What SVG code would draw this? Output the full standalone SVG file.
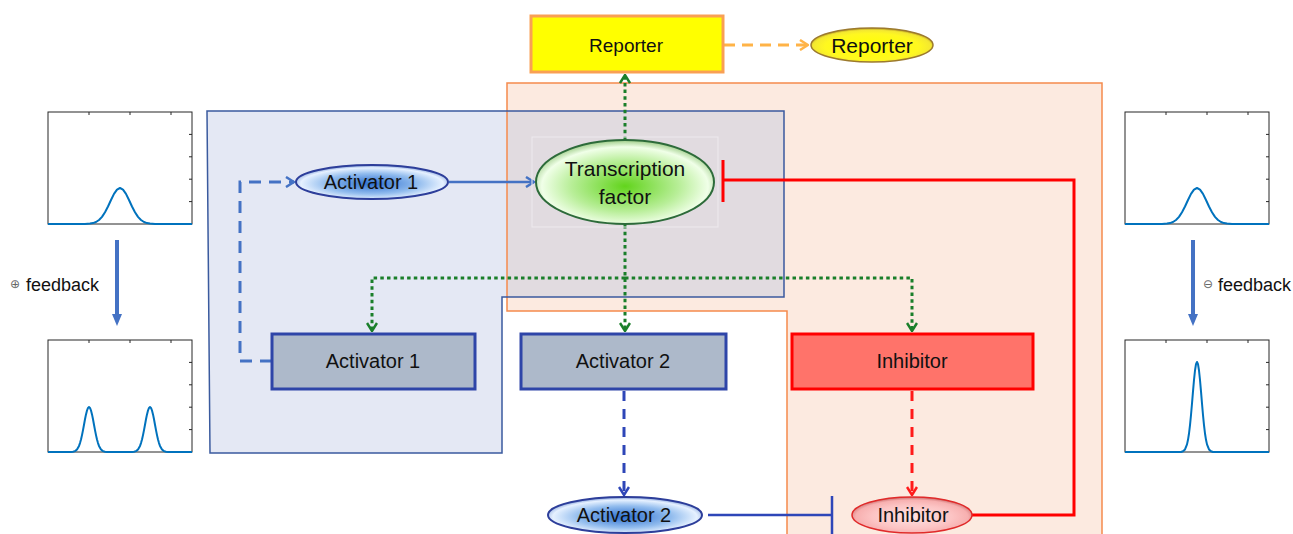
<svg xmlns="http://www.w3.org/2000/svg" xmlns:xlink="http://www.w3.org/1999/xlink" width="1293" height="534" viewBox="0 0 1293 534">
  <style>
    text { font-family: "Liberation Sans", Arial, sans-serif; fill: #111; text-anchor: middle; dominant-baseline: central; }
    .lbl { font-size: 20px; }
    .fb { font-size: 18px; text-anchor: start; }
    .sym { font-family: "DejaVu Sans", sans-serif; font-size: 12px; fill: #666; text-anchor: start; }
    .frame { fill: #fff; stroke: #262626; stroke-width: 1; }
    .tick { stroke: #262626; stroke-width: 1; }
    .curve { fill: none; stroke: #0072BD; stroke-width: 2; stroke-linejoin: round; }
    .box { stroke-width: 3; }
    .act-box { fill: #ADB9CA; stroke: #2E45A8; }
    .inh-box { fill: #FF736A; stroke: #FF0000; }
    .green { fill: none; stroke: #1A7F2A; stroke-width: 3; stroke-dasharray: 3.5 3.2; }
    .feed { stroke: #4472C4; stroke-width: 4; }
  </style>
  <defs>
    <radialGradient id="gBlue" cx="0.5" cy="0.55" r="0.55">
      <stop offset="0" stop-color="#2C6FD0"/>
      <stop offset="0.55" stop-color="#93BDEE"/>
      <stop offset="0.85" stop-color="#E6F1FF"/>
      <stop offset="1" stop-color="#7C9BD8"/>
    </radialGradient>
    <radialGradient id="gGreen" cx="0.5" cy="0.55" r="0.55">
      <stop offset="0" stop-color="#62D41C"/>
      <stop offset="0.55" stop-color="#B8EE98"/>
      <stop offset="0.85" stop-color="#F0FFE8"/>
      <stop offset="1" stop-color="#9CCB86"/>
    </radialGradient>
    <radialGradient id="gPink" cx="0.5" cy="0.55" r="0.55">
      <stop offset="0" stop-color="#FFE2E2"/>
      <stop offset="0.6" stop-color="#FCC4C4"/>
      <stop offset="0.85" stop-color="#F7B0B0"/>
      <stop offset="1" stop-color="#C86A6A"/>
    </radialGradient>
    <radialGradient id="gYellow" cx="0.5" cy="0.55" r="0.55">
      <stop offset="0" stop-color="#FFFF00"/>
      <stop offset="0.7" stop-color="#FFF820"/>
      <stop offset="0.88" stop-color="#F4E830"/>
      <stop offset="1" stop-color="#B09020"/>
    </radialGradient>

    <!-- open chevron arrowheads, one per stroke colour -->
    <marker id="aGreen" viewBox="0 0 10 12" refX="9" refY="6" markerWidth="10" markerHeight="12" markerUnits="userSpaceOnUse" orient="auto">
      <path d="M1,1 L9,6 L1,11" fill="none" stroke="#1A7F2A" stroke-width="2.5"/>
    </marker>
    <marker id="aBlue" viewBox="0 0 10 12" refX="9" refY="6" markerWidth="10" markerHeight="12" markerUnits="userSpaceOnUse" orient="auto">
      <path d="M1,1 L9,6 L1,11" fill="none" stroke="#4472C4" stroke-width="2.5"/>
    </marker>
    <marker id="aNavy" viewBox="0 0 10 12" refX="9" refY="6" markerWidth="10" markerHeight="12" markerUnits="userSpaceOnUse" orient="auto">
      <path d="M1,1 L9,6 L1,11" fill="none" stroke="#2E46B8" stroke-width="2.5"/>
    </marker>
    <marker id="aRed" viewBox="0 0 10 12" refX="9" refY="6" markerWidth="10" markerHeight="12" markerUnits="userSpaceOnUse" orient="auto">
      <path d="M1,1 L9,6 L1,11" fill="none" stroke="#FF1A1A" stroke-width="2.5"/>
    </marker>
    <marker id="aOrange" viewBox="0 0 10 12" refX="9" refY="6" markerWidth="10" markerHeight="12" markerUnits="userSpaceOnUse" orient="auto">
      <path d="M1,1 L9,6 L1,11" fill="none" stroke="#FFB347" stroke-width="2.5"/>
    </marker>
    <marker id="aFeed" viewBox="0 0 12 10" refX="2" refY="5" markerWidth="12" markerHeight="10" markerUnits="userSpaceOnUse" orient="auto">
      <path d="M0,0 L12,5 L0,10 Z" fill="#4472C4"/>
    </marker>

    <!-- wide Gaussian profile across a 144px axis, peak 36 high, sigma 10, centred 72px in -->
    <path id="gaussWide" d="M0,0 H35 L37,-0.1 42,-0.4 45,-0.9 48,-2 51,-4 54,-7.1 57,-11.7 60,-17.5 63,-24 66,-30.1 69,-34.4 72,-36 75,-34.4 78,-30.1 81,-24 84,-17.5 87,-11.7 90,-7.1 93,-4 96,-2 99,-0.9 102,-0.4 107,-0.1 109,0 H144"/>

    <!-- plot axes box with inward ticks on top and right edges -->
    <g id="axes">
      <rect class="frame" x="0" y="0" width="144" height="112"/>
      <path class="tick" d="M41,0 v3 M82,0 v3 M123,0 v3 M144,22.4 h-3 M144,44.8 h-3 M144,67.2 h-3 M144,89.6 h-3"/>
    </g>

    <polygon id="orangeZone" points="507,83 1102,83 1102,540 787,540 787,311 507,311"/>
    <polygon id="blueZone" points="207,111 784,111 784,297 502,297 502,453 210,453"/>
  </defs>

  <!-- background compartments -->
  <g id="compartments">
    <use xlink:href="#orangeZone" fill="#FCEAE0"/>
    <use xlink:href="#blueZone" fill="#E4E8F4"/>
    <rect x="507" y="111" width="277" height="186" fill="#E1DBE0"/>
    <use xlink:href="#orangeZone" fill="none" stroke="#F58B4C" stroke-width="1.5"/>
    <use xlink:href="#blueZone" fill="none" stroke="#3A5A9E" stroke-width="1.5"/>
  </g>

  <!-- distribution plots -->
  <g id="plot-left-top">
    <use xlink:href="#axes" x="48" y="112"/>
    <use xlink:href="#gaussWide" class="curve" x="48" y="224"/>
  </g>
  <g id="plot-left-bottom">
    <use xlink:href="#axes" x="48" y="340"/>
    <path class="curve" d="M48,452 H71 L73,451.7 75,451.1 77,449.5 79,445.9 80,443.1 81,439.5 82,435.1 83,430.1 84,424.7 85,419.3 86,414.4 87,410.5 88,407.9 89,407 90,407.9 91,410.5 92,414.4 93,419.3 94,424.7 95,430.1 96,435.1 97,439.5 98,443.1 99,445.9 101,449.5 103,451.1 105,451.7 107,452 H132 L134,451.7 136,451.1 138,449.5 140,445.9 141,443.1 142,439.5 143,435.1 144,430.1 145,424.7 146,419.3 147,414.4 148,410.5 149,407.9 150,407 151,407.9 152,410.5 153,414.4 154,419.3 155,424.7 156,430.1 157,435.1 158,439.5 159,443.1 160,445.9 162,449.5 164,451.1 166,451.7 168,452 H192"/>
  </g>
  <g id="plot-right-top">
    <use xlink:href="#axes" x="1125" y="112"/>
    <use xlink:href="#gaussWide" class="curve" x="1125" y="224"/>
  </g>
  <g id="plot-right-bottom">
    <use xlink:href="#axes" x="1125" y="340"/>
    <path class="curve" d="M1125,452 H1181 L1183,451.3 1185,449.4 1187,444.4 1188,439.8 1189,433.5 1190,425.2 1191,415 1192,403.5 1193,391.4 1194,380 1195,370.5 1196,364.2 1197,362 1198,364.2 1199,370.5 1200,380 1201,391.4 1202,403.5 1203,415 1204,425.2 1205,433.5 1206,439.8 1207,444.4 1209,449.4 1211,451.3 1213,452 H1269"/>
  </g>

  <g id="feedback-pos">
    <line class="feed" x1="117" y1="240" x2="117" y2="316" marker-end="url(#aFeed)"/>
    <text class="sym" x="10" y="284">⊕</text>
    <text class="fb" x="26" y="285">feedback</text>
  </g>
  <g id="feedback-neg">
    <line class="feed" x1="1193" y1="240" x2="1193" y2="316" marker-end="url(#aFeed)"/>
    <text class="sym" x="1203" y="284">⊖</text>
    <text class="fb" x="1218" y="285">feedback</text>
  </g>

  <!-- connectors -->
  <g id="connectors">
    <line x1="724" y1="45" x2="808" y2="45" stroke="#FFB347" stroke-width="3" stroke-dasharray="11 7" marker-end="url(#aOrange)"/>
    <line class="green" x1="625" y1="140" x2="625" y2="75" marker-end="url(#aGreen)"/>
    <line class="green" x1="625" y1="225" x2="625" y2="331" marker-end="url(#aGreen)"/>
    <path class="green" d="M625,278 H372 V331" marker-end="url(#aGreen)"/>
    <path class="green" d="M625,278 H912 V331" marker-end="url(#aGreen)"/>
    <line x1="449" y1="182" x2="534" y2="182" stroke="#4472C4" stroke-width="2.5" marker-end="url(#aBlue)"/>
    <path d="M272,361 H240 V182 H294" fill="none" stroke="#4472C4" stroke-width="3" stroke-dasharray="12 8" marker-end="url(#aBlue)"/>
    <line x1="624" y1="391" x2="624" y2="495" stroke="#2E46B8" stroke-width="3" stroke-dasharray="10 8" marker-end="url(#aNavy)"/>
    <line x1="912" y1="391" x2="912" y2="495" stroke="#FF1A1A" stroke-width="3" stroke-dasharray="10 8" marker-end="url(#aRed)"/>
    <path d="M708,515 H832 M832,496 V534" fill="none" stroke="#2E46B8" stroke-width="2.5"/>
    <path d="M972,515 H1074 V180 H723 M723,160 V202" fill="none" stroke="#FF0000" stroke-width="3"/>
  </g>

  <!-- nodes -->
  <g id="reporter-gene">
    <rect class="box" x="531" y="16" width="192" height="56" fill="#FFFF00" stroke="#F9A054"/>
    <text class="lbl" x="626" y="45" style="font-size:19px">Reporter</text>
  </g>
  <g id="reporter-protein">
    <ellipse cx="872" cy="45" rx="61" ry="17" fill="url(#gYellow)" stroke="#9C7A2E" stroke-width="1.5"/>
    <text class="lbl" x="872" y="45" style="font-size:21px">Reporter</text>
  </g>
  <g id="transcription-factor">
    <rect x="532" y="137" width="186" height="90" fill="none" stroke="#EEEAEE" stroke-width="1"/>
    <ellipse cx="625" cy="182" rx="89" ry="42" fill="url(#gGreen)" stroke="#2D6B3A" stroke-width="2"/>
    <text class="lbl" x="625" y="168" style="font-size:21px">Transcription</text>
    <text class="lbl" x="625" y="196" style="font-size:21px">factor</text>
  </g>
  <g id="activator1-protein">
    <ellipse cx="372" cy="182" rx="76" ry="17" fill="url(#gBlue)" stroke="#2D3E9A" stroke-width="2"/>
    <text class="lbl" x="371" y="182">Activator 1</text>
  </g>
  <g id="activator1-gene">
    <rect class="box act-box" x="272" y="334" width="203" height="55"/>
    <text class="lbl" x="373" y="361">Activator 1</text>
  </g>
  <g id="activator2-gene">
    <rect class="box act-box" x="521" y="334" width="205" height="55"/>
    <text class="lbl" x="623" y="361">Activator 2</text>
  </g>
  <g id="inhibitor-gene">
    <rect class="box inh-box" x="792" y="334" width="241" height="55"/>
    <text class="lbl" x="912" y="361">Inhibitor</text>
  </g>
  <g id="activator2-protein">
    <ellipse cx="625" cy="515" rx="77" ry="18" fill="url(#gBlue)" stroke="#2D3E9A" stroke-width="2"/>
    <text class="lbl" x="624" y="515">Activator 2</text>
  </g>
  <g id="inhibitor-protein">
    <ellipse cx="912" cy="515" rx="60" ry="18" fill="url(#gPink)" stroke="#E02A2A" stroke-width="1.5"/>
    <text class="lbl" x="913" y="515">Inhibitor</text>
  </g>
</svg>
